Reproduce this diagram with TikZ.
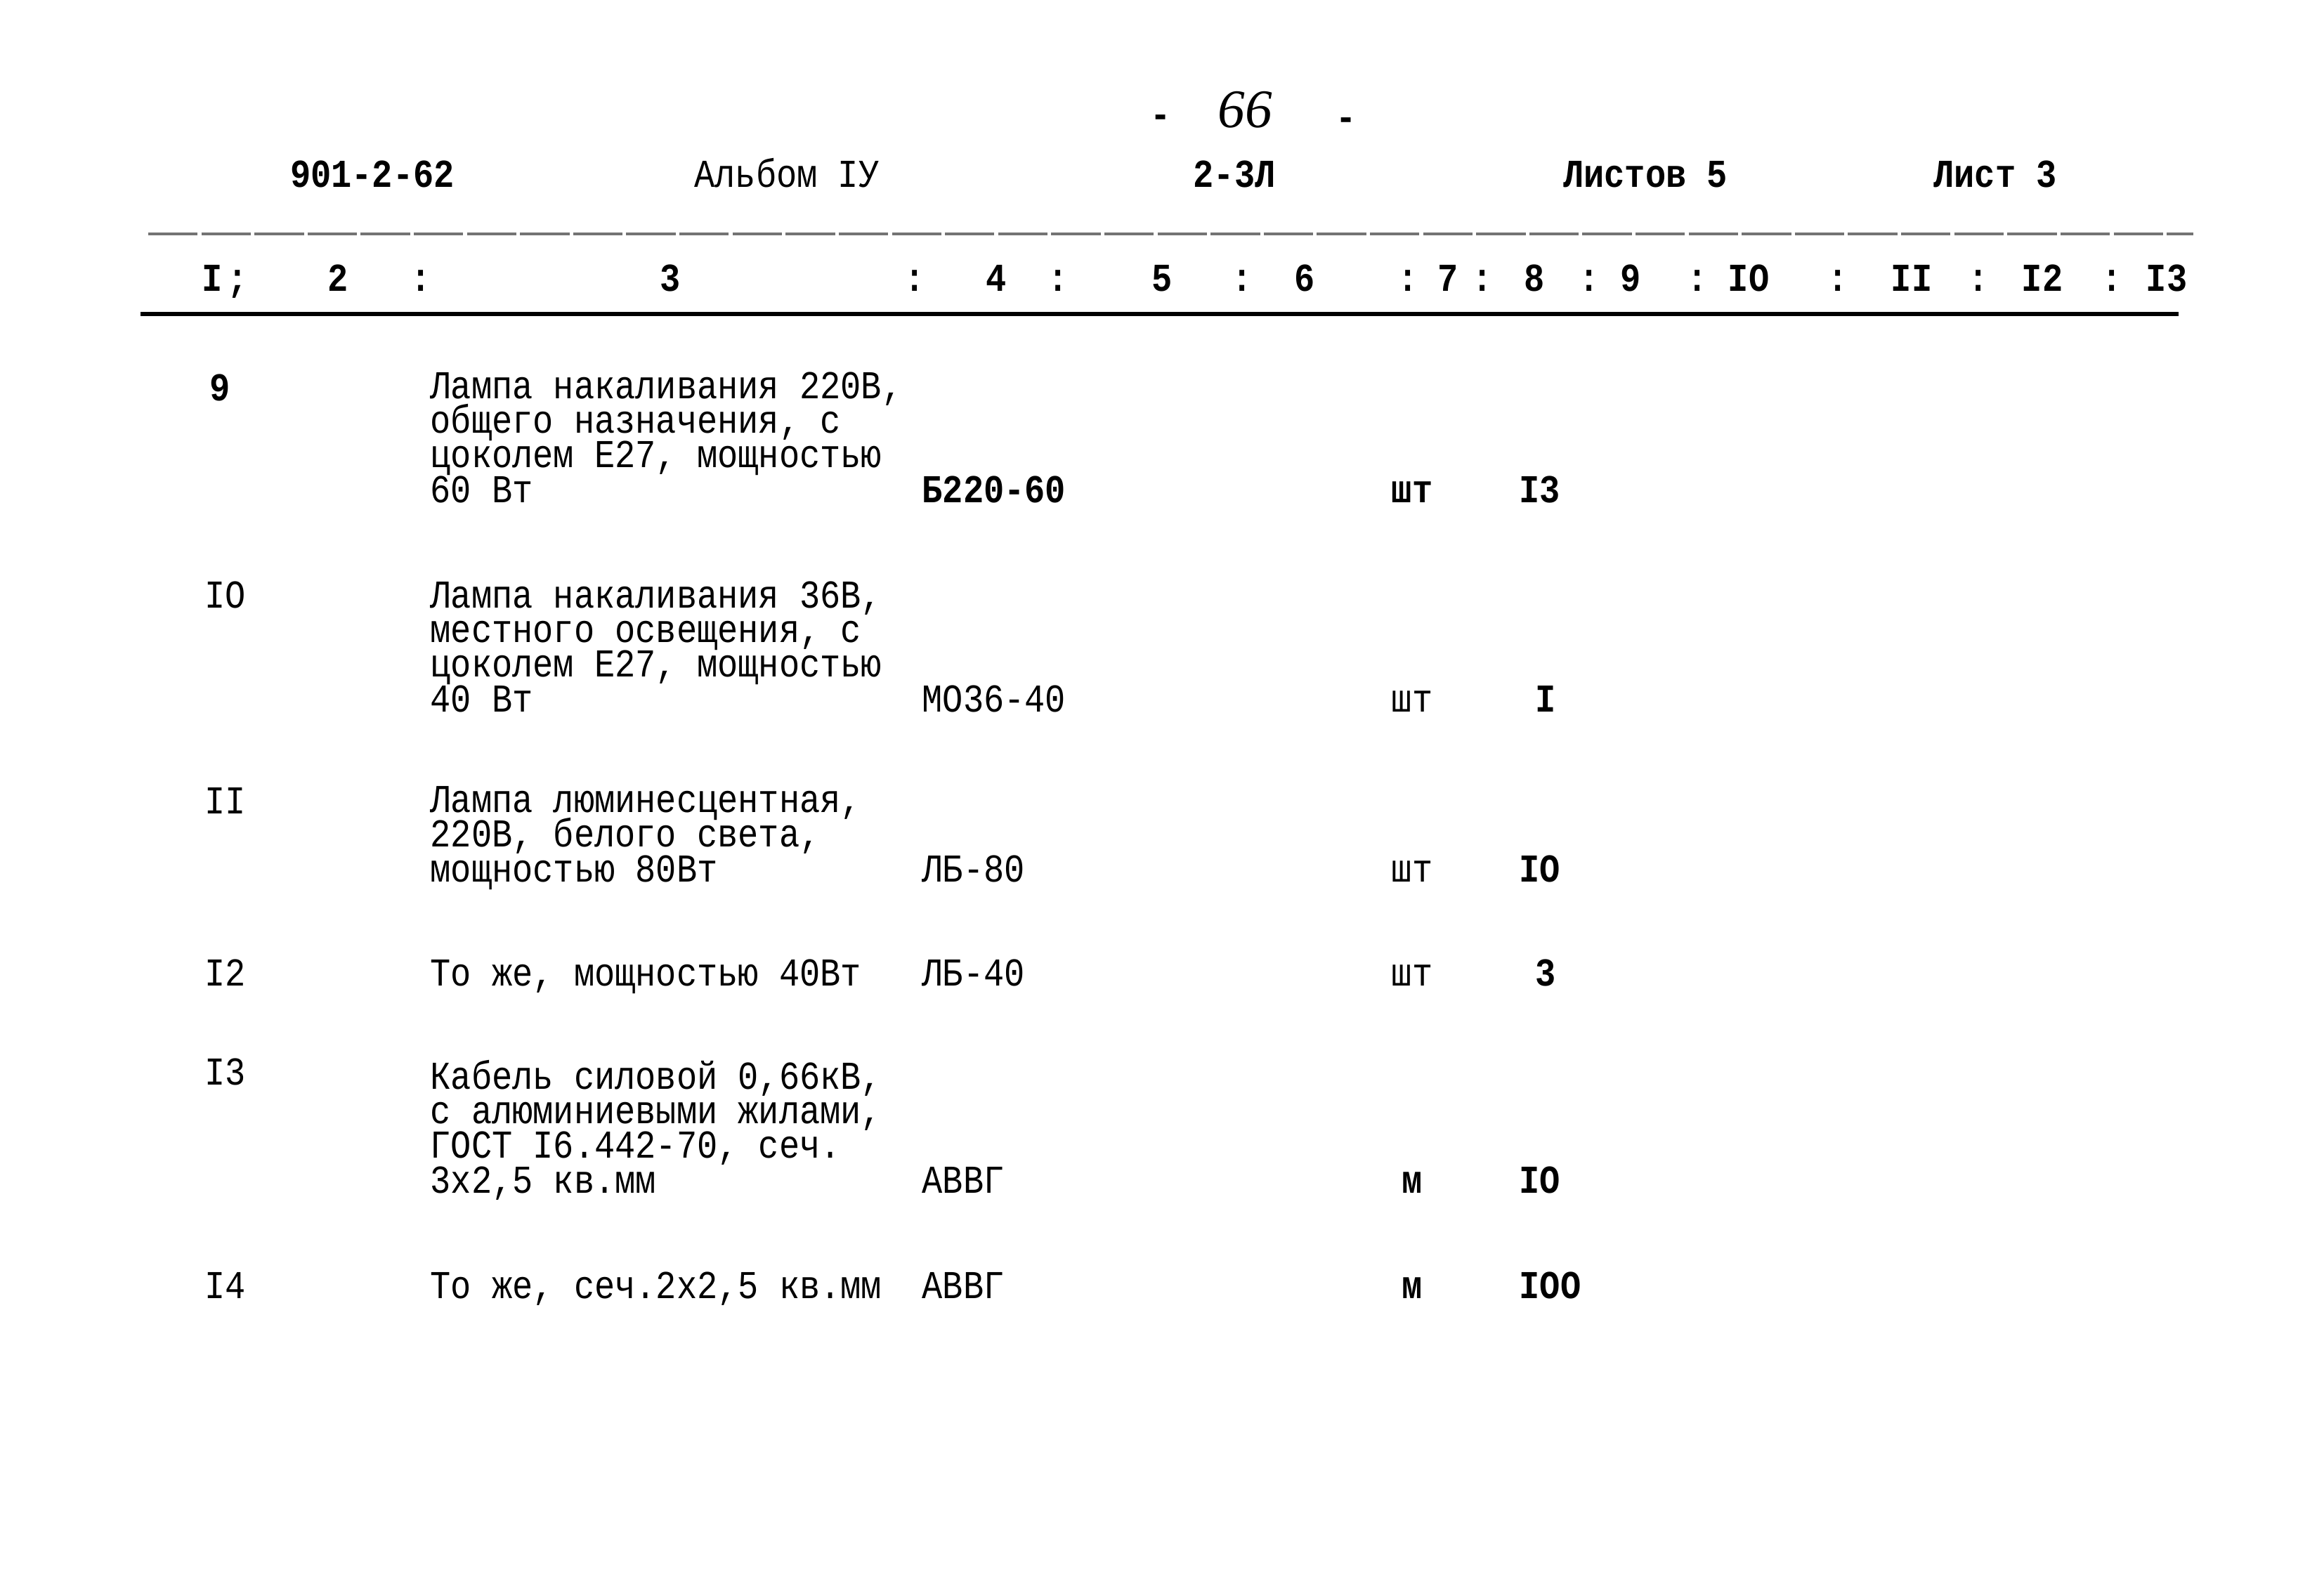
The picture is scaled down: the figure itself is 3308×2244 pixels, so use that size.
\documentclass[tikz,border=0pt]{standalone}
\usepackage{fontspec}
\newfontfamily\tw[FakeStretch=0.865]{Liberation Mono}
\newfontfamily\hw{Liberation Serif}
\newcommand\twtight{\lineskiplimit=-30pt\relax\lineskip=0pt\relax}
\begin{document}
\begin{tikzpicture}[x=0.01cm,y=-0.01cm,
  txt/.style={anchor=base west, inner sep=0pt, align=left, font=\tw\fontsize{16}{14}\selectfont\twtight},
  txtb/.style={txt, font=\tw\bfseries\fontsize{16}{14}\selectfont},
  ctr/.style={anchor=base, inner sep=0pt, font=\tw\fontsize{16}{14}\selectfont},
  ctrb/.style={ctr, font=\tw\bfseries\fontsize{16}{14}\selectfont},
  rulethin/.style={black!55, line width=1pt, dash pattern=on 20pt off 1.5pt},
  rulethick/.style={black, line width=1.8pt},
]
\fill[white] (0,0) rectangle (3308,2244);
\useasboundingbox (0,0) rectangle (3308,2244);

% page number
\node[ctrb] (d1) at (1652,181) {-};
\node[anchor=base, inner sep=0pt, font=\hw\itshape\fontsize{22}{22}\selectfont] (pg) at (1772,181) {66};
\node[ctrb] (d2) at (1916,185) {-};

% header
\node[ctrb] (doc) at (530,266) {901-2-62};
\node[ctr]  (alb) at (1120,266) {Альбом IУ};
\node[ctrb] (sec) at (1757,266) {2-3Л};
\node[ctrb] (lst) at (2342,266) {Листов 5};
\node[ctrb] (lt)  at (2840,266) {Лист 3};

\coordinate (l1a) at (211,333);
\coordinate (l1b) at (3122,333);
\draw[rulethin] (l1a) -- (l1b);

% column numbers
\foreach \x/\t [count=\i] in {302/I,338/;,481/2,599/:,954/3,1302/:,1418/4,1506/:,1654/5,1768/:,1857/6,2004/:,2061/7,2110/:,2184/8,2262/:,2321/9,2416/:,2489/IO,2616/:,2721/II,2816/:,2907/I2,3006/:,3084/I3}
  \node[ctrb] (h\i) at (\x,414) {\t};

\coordinate (l2a) at (200,447);
\coordinate (l2b) at (3101,447);
\draw[rulethick] (l2a) -- (l2b);

% item 9
\node[txtb] (n9) at (298,570) {9};
\node[txt] (t9) at (612,715) {Лампа накаливания 220В,\\общего назначения, с\\цоколем Е27, мощностью\\60 Вт};
\node[txtb] (c9) at (1312,715) {Б220-60};
\node[ctrb] (u9) at (2010,715) {шт};
\node[txtb] (q9) at (2162,715) {I3};

% item 10
\node[txt] (n10) at (291,865) {IO};
\node[txt] (t10) at (612,1013) {Лампа накаливания 36В,\\местного освещения, с\\цоколем Е27, мощностью\\40 Вт};
\node[txt] (c10) at (1312,1013) {МО36-40};
\node[ctr] (u10) at (2010,1013) {шт};
\node[ctrb] (q10) at (2200,1013) {I};

% item 11
\node[txt] (n11) at (291,1158) {II};
\node[txt] (t11) at (612,1255) {Лампа люминесцентная,\\220В, белого света,\\мощностью 80Вт};
\node[txt] (c11) at (1312,1255) {ЛБ-80};
\node[ctr] (u11) at (2010,1255) {шт};
\node[txtb] (q11) at (2162,1255) {IO};

% item 12
\node[txt] (n12) at (291,1403) {I2};
\node[txt] (t12) at (612,1403) {То же, мощностью 40Вт};
\node[txt] (c12) at (1312,1403) {ЛБ-40};
\node[ctr] (u12) at (2010,1403) {шт};
\node[ctrb] (q12) at (2200,1403) {3};

% item 13
\node[txt] (n13) at (291,1544) {I3};
\node[txt] (t13) at (612,1698) {Кабель силовой 0,66кВ,\\с алюминиевыми жилами,\\ГОСТ I6.442-70, сеч.\\3х2,5 кв.мм};
\node[txt] (c13) at (1312,1698) {АВВГ};
\node[ctrb] (u13) at (2010,1698) {м};
\node[txtb] (q13) at (2162,1698) {IO};

% item 14
\node[txt] (n14) at (291,1848) {I4};
\node[txt] (t14) at (612,1848) {То же, сеч.2х2,5 кв.мм};
\node[txt] (c14) at (1312,1848) {АВВГ};
\node[ctrb] (u14) at (2010,1848) {м};
\node[txtb] (q14) at (2162,1848) {IOO};
\end{tikzpicture}
\end{document}
